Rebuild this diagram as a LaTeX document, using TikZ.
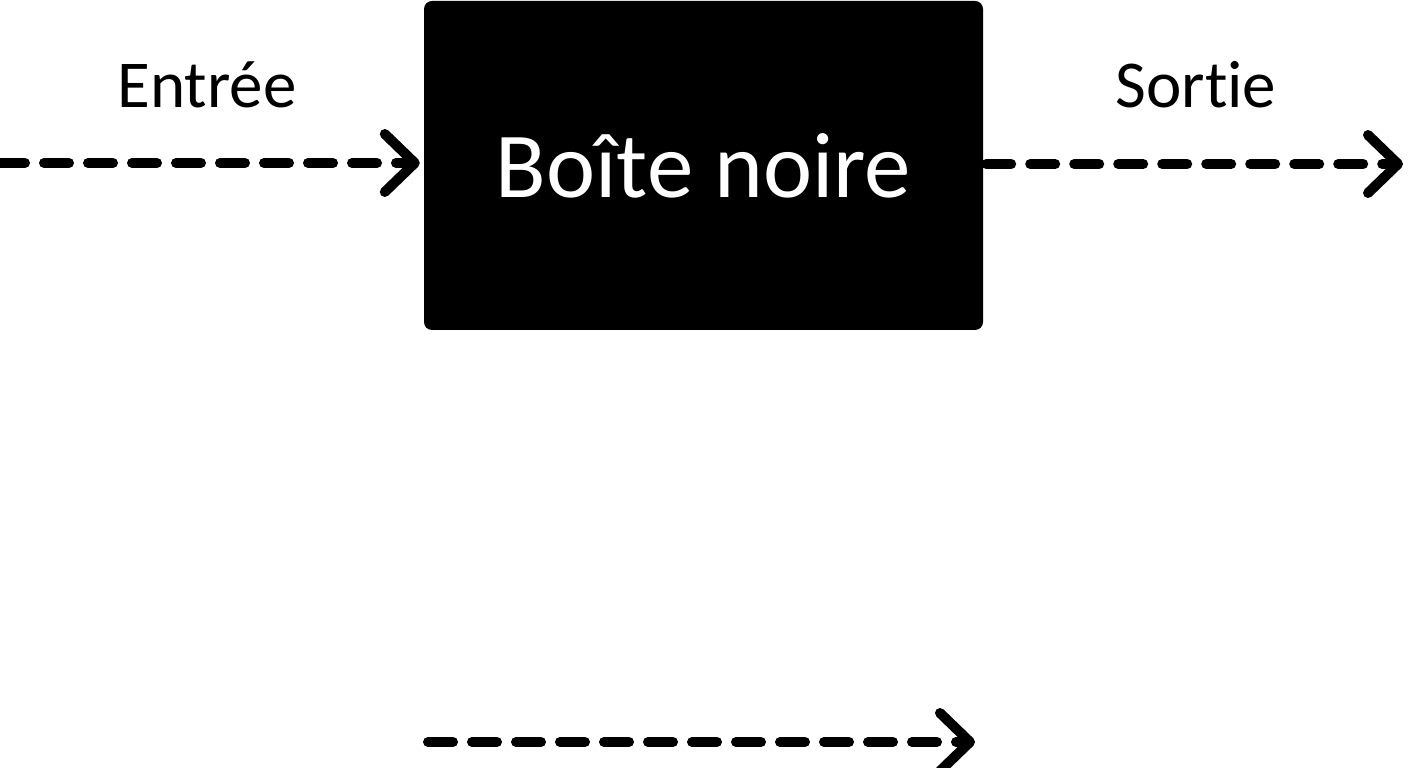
\documentclass[tikz,border=0pt]{standalone}
\usepackage{fontspec}
\setmainfont[Ligatures=NoCommon]{Carlito}
\usetikzlibrary{arrows.meta}

\begin{document}
\begin{tikzpicture}[x=1pt, y=1pt,
  fleche/.style={line width=10pt, line cap=round, dash pattern=on 25pt off 19pt,
    -{Straight Barb[length=30pt, width=58pt, line width=10pt, round]}},
  etiquette/.style={anchor=base, font=\fontsize{67}{80}\selectfont}]

% 页面大小
\useasboundingbox (0,0) rectangle (1408,768);

% 黑盒
\node[fill=black, rounded corners=8pt, minimum width=559pt, minimum height=329pt,
  inner sep=0pt, text=white, font=\fontsize{93}{112}\selectfont] (boite)
  at (703.5,602.5) {Boîte noire};

% 输入与输出的端点
\coordinate (entree) at (0,605);
\coordinate (sortie) at (1403,604);
\coordinate (debut) at (428,26);
\coordinate (fin) at (975,26);

% 文字
\node[etiquette] (lentree) at (207,660) {Entrée};
\node[etiquette] (lsortie) at (1196,660) {Sortie};

% 虚线箭头
\draw[fleche, shorten >=4pt] (entree) -- (entree -| boite.west);
\draw[fleche, shorten <=3pt] (sortie -| boite.east) -- (sortie);
\draw[fleche] (debut) -- (fin);

\end{tikzpicture}
\end{document}
